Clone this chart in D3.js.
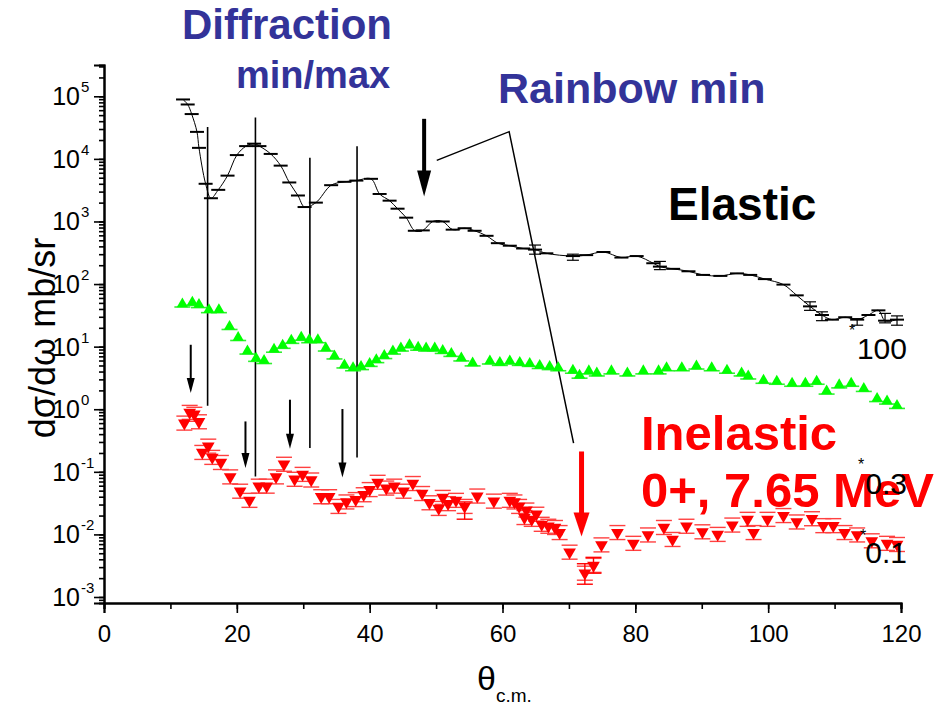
<!DOCTYPE html>
<html><head><meta charset="utf-8">
<script src="https://cdn.jsdelivr.net/npm/d3@7"></script>
<style>body{margin:0;background:#fff} svg{display:block}</style>
</head><body><svg id="c" width="934" height="711"></svg>
<script>
// ---------- data ----------
const elasticTheta = [11.9,12.6,13.2,14.0,14.3,15.3,16.1,17.2,18.6,20.0,21.4,22.6,23.4,25.1,26.6,27.9,29.2,30.2,31.9,34.2,36.2,38.0,40.2,41.5,43.0,44.2,45.5,46.8,48.0,49.5,51.0,52.5,54.3,55.8,57.6,59.3,61.1,63.1,64.9,66.6,70.6,72.6,75.2,77.9,80.2,82.7,83.7,85.7,88.0,90.2,92.8,95.3,97.3,99.5,102.3,104.3,106.3,108.1,109.6,111.6,113.4,115.1,116.6,117.6,119.4];
const elasticValue = [89000,74000,52000,27000,15000,4000,2350,3200,5400,11500,16000,17500,16000,12000,7800,4200,2600,1700,2000,3800,4300,4500,4800,2750,2150,1600,1150,710,720,1000,1000,740,780,710,590,450,410,370,355,310,280,290,325,265,280,215,190,175,160,140,135,148,140,120,98,66,44,32,27,29.5,27,32,38,26,27];
// elastic error bars: theta, low, high
const elasticErr = [[64.9,300,420],[70.6,240,300],[83.7,170,230],[106.3,38,52],[108.1,26,36],[113.4,22,28],[117.6,24,34],[119.4,22,31]];

const greenTheta = [11.8,13.3,14.3,15.8,17.3,18.9,20.2,21.6,22.9,24.1,25.6,26.9,28.2,29.7,30.9,32.2,33.4,34.7,36.2,37.5,38.7,40.0,41.0,42.2,43.5,44.7,46.0,47.3,48.5,49.8,51.0,52.3,53.8,55.5,58.1,59.6,61.1,62.6,64.1,65.6,67.1,68.4,70.6,71.6,73.0,74.2,76.4,78.8,81.2,83.5,84.7,87.0,89.2,91.5,93.8,96.0,97.0,99.3,101.3,103.6,105.6,107.3,108.8,110.7,112.5,114.4,116.4,117.9,119.4];
const greenValue = [48,51,47,39,39,21,14,8.5,6.5,6.0,9.1,10.5,12.6,14.1,12.9,12.9,9.5,7.1,5.1,4.6,4.8,5.4,6.2,7.2,8.5,9.5,10.7,9.8,9.5,9.5,8.7,7.8,6.6,5.5,5.9,5.6,5.9,5.6,5.4,5.0,4.8,4.6,4.2,3.5,4.1,3.8,4.1,3.8,4.1,4.1,4.6,4.6,4.9,4.6,4.2,3.8,3.4,2.9,2.8,2.6,2.6,2.8,1.95,2.45,2.6,2.15,1.48,1.35,1.15];

const redTheta = [12.1,12.9,13.6,14.3,14.8,15.7,16.3,17.6,19.0,20.5,21.9,23.3,24.5,25.9,27.1,28.7,29.9,31.2,32.7,33.9,35.3,36.5,37.9,39.1,40.0,41.2,42.5,43.7,45.1,46.5,47.9,49.0,50.4,51.0,51.8,53.0,54.3,56.2,58.7,61.1,61.8,62.5,63.3,63.6,64.4,65.1,65.9,66.9,67.9,68.6,70.1,72.4,73.7,74.9,77.3,79.7,81.9,84.3,85.6,87.7,90.1,92.4,94.6,96.9,97.8,99.9,102.3,104.3,106.6,108.3,109.8,111.5,113.4,115.6,117.9,119.4];
const redValue = [0.60,0.89,0.83,0.63,0.204,0.257,0.17,0.141,0.083,0.049,0.035,0.059,0.059,0.083,0.132,0.076,0.091,0.074,0.040,0.040,0.028,0.033,0.036,0.043,0.052,0.068,0.055,0.059,0.049,0.065,0.045,0.032,0.026,0.039,0.031,0.035,0.028,0.041,0.034,0.035,0.033,0.028,0.0186,0.0245,0.0174,0.021,0.0145,0.0135,0.0129,0.0107,0.0052,0.0024,0.0032,0.0068,0.0107,0.0072,0.0098,0.0129,0.0083,0.0135,0.011,0.010,0.0141,0.0174,0.0107,0.0174,0.020,0.0158,0.0178,0.0138,0.0138,0.0107,0.0098,0.0079,0.0072,0.0069];
const redErr = [[54.3,0.0175,0.033],[72.4,0.0016,0.0034],[73.7,0.0024,0.0043]];

const xTicks = [0,20,40,60,80,100,120];
const yExponents = [5,4,3,2,1,0,-1,-2,-3];

// annotation geometry in data units: [theta, log10 top, log10 bottom]
const diffLines = [[15.6,4.51,0.056],[22.8,4.66,-1.075],[31.0,4.02,-0.62],[38.1,4.20,-0.77]];
const smallArrows = [[13.06,1.03,0.26],[21.3,-0.195,-0.94],[28.0,0.152,-0.632],[35.9,0.003,-1.09]];
const bigArrow = [48.2,4.64,3.40];
const redArrow = [71.9,-0.675,-2.035];
const rainbowPath = [[50.1,3.976],[61.0,4.435],[70.7,-0.54]];

// ---------- scales ----------
const svg = d3.select('#c');
const x = d3.scaleLinear().domain([0,120]).range([104,901]);
const y = d3.scaleLog().domain([Math.pow(10,-3.096), Math.pow(10,5.5)]).range([603,65]);
const yl = v => y(Math.pow(10,v));
const font = "'Liberation Sans', Arial, sans-serif";

// ---------- axes ----------
const xMinor = d3.range(0,121,10);
const gx = svg.append('g').attr('transform','translate(0,603)');
gx.call(d3.axisBottom(x).tickValues(xMinor).tickSize(6).tickFormat(''));
gx.append('g').call(d3.axisBottom(x).tickValues(xTicks).tickSize(10).tickFormat(d=>d));
gx.selectAll('path.domain').attr('stroke','#000').attr('stroke-width',2);
gx.selectAll('line').attr('stroke','#000').attr('stroke-width',1.6);
gx.selectAll('text').attr('font-family',"'Liberation Sans Narrow','Liberation Sans',Arial,sans-serif")
  .attr('font-size',24).attr('fill','#000').attr('dy','1.1em');
gx.select('g').select('path.domain').remove();

const yMinor = [];
for (let e=-4;e<=5;e++) for (let m=1;m<10;m++){const v=m*Math.pow(10,e); if(v>=y.domain()[0]&&v<=y.domain()[1]) yMinor.push(v);}
const gy = svg.append('g').attr('transform','translate(104,0)');
gy.call(d3.axisLeft(y).tickValues(yMinor).tickSize(5).tickFormat(''));
gy.append('g').call(d3.axisLeft(y).tickValues(yExponents.map(e=>Math.pow(10,e))).tickSize(10).tickFormat(''));
gy.selectAll('path.domain').attr('stroke','#000').attr('stroke-width',2);
gy.select('g').select('path.domain').remove();
gy.selectAll('line').attr('stroke','#000').attr('stroke-width',1.6);
const ylab = svg.append('g');
yExponents.forEach(e=>{
  ylab.append('text').attr('x',80).attr('y',y(Math.pow(10,e))+9)
    .attr('text-anchor','end').attr('font-family',font).attr('font-size',25).attr('fill','#000').text('10');
  ylab.append('text').attr('x',81).attr('y',y(Math.pow(10,e))-4)
    .attr('font-family',font).attr('font-size',15).attr('fill','#000').text(String(e));
});

// axis titles
svg.append('text').attr('transform','translate(55,338) rotate(-90)').attr('text-anchor','middle')
  .attr('font-family',font).attr('font-size',36).attr('fill','#000').text('dσ/dω mb/sr');
const xt = svg.append('text').attr('x',477).attr('y',690).attr('font-family',font).attr('fill','#000');
xt.append('tspan').attr('font-size',34).text('θ');
xt.append('tspan').attr('font-size',19).attr('dy',12).text('c.m.');

// ---------- annotations ----------
const ann = svg.append('g');
diffLines.forEach(d=>ann.append('line').attr('x1',x(d[0])).attr('x2',x(d[0])).attr('y1',yl(d[1])).attr('y2',yl(d[2]))
  .attr('stroke','#000').attr('stroke-width',1.6));
function arrow(g, d, col, w, hw, hl){
  const xx=x(d[0]), y0=yl(d[1]), y1=yl(d[2]);
  g.append('line').attr('x1',xx).attr('x2',xx).attr('y1',y0).attr('y2',y1-hl+2).attr('stroke',col).attr('stroke-width',w);
  g.append('path').attr('d',`M${xx-hw/2},${y1-hl} L${xx+hw/2},${y1-hl} L${xx},${y1} Z`).attr('fill',col);
}
smallArrows.forEach(d=>arrow(ann,d,'#000',2,8,15));
arrow(ann,bigArrow,'#000',4,14,26);
arrow(ann,redArrow,'#ff0000',5,16,24);
ann.append('path').attr('d',d3.line().x(d=>x(d[0])).y(d=>yl(d[1]))(rainbowPath))
  .attr('fill','none').attr('stroke','#000').attr('stroke-width',1.5);

// ---------- elastic ----------
const el = elasticTheta.map((t,i)=>({t, v:elasticValue[i]}));
const ge = svg.append('g');
ge.append('path').attr('d',d3.line().x(d=>x(d.t)).y(d=>y(d.v)).curve(d3.curveCatmullRom)(el))
  .attr('fill','none').attr('stroke','#000').attr('stroke-width',1);
ge.selectAll('line.m').data(el).join('line').attr('class','m')
  .attr('x1',d=>x(d.t)-7).attr('x2',d=>x(d.t)+7).attr('y1',d=>y(d.v)).attr('y2',d=>y(d.v))
  .attr('stroke','#000').attr('stroke-width',2);
elasticErr.forEach(e=>{
  const xx=x(e[0]);
  ge.append('line').attr('x1',xx).attr('x2',xx).attr('y1',y(e[1])).attr('y2',y(e[2])).attr('stroke','#000').attr('stroke-width',1.2);
  [e[1],e[2]].forEach(v=>ge.append('line').attr('x1',xx-6).attr('x2',xx+6).attr('y1',y(v)).attr('y2',y(v)).attr('stroke','#000').attr('stroke-width',1.2));
});

// ---------- green ----------
const gr = greenTheta.map((t,i)=>({t, v:greenValue[i]}));
const gg = svg.append('g');
gg.selectAll('line').data(gr).join('line')
  .attr('x1',d=>x(d.t)-8).attr('x2',d=>x(d.t)+8).attr('y1',d=>y(d.v)+3).attr('y2',d=>y(d.v)+3)
  .attr('stroke','#33ee33').attr('stroke-width',1.6);
gg.selectAll('path').data(gr).join('path')
  .attr('transform',d=>`translate(${x(d.t)},${y(d.v)})`)
  .attr('d',d3.symbol(d3.symbolTriangle).size(55)).attr('fill','#00ff00');

// ---------- red ----------
const rd = redTheta.map((t,i)=>({t, v:redValue[i]}));
const gd = svg.append('g');
rd.forEach(d=>{
  const xx=x(d.t), yy=y(d.v);
  [-7,7].forEach(o=>gd.append('line').attr('x1',xx-8).attr('x2',xx+8).attr('y1',yy+o).attr('y2',yy+o)
    .attr('stroke','#ff4040').attr('stroke-width',1.4));
});
redErr.forEach(e=>{
  const xx=x(e[0]);
  gd.append('line').attr('x1',xx).attr('x2',xx).attr('y1',y(e[1])).attr('y2',y(e[2])).attr('stroke','#ff0000').attr('stroke-width',1.4);
  [e[1],e[2]].forEach(v=>gd.append('line').attr('x1',xx-8).attr('x2',xx+8).attr('y1',y(v)).attr('y2',y(v)).attr('stroke','#ff0000').attr('stroke-width',1.4));
});
gd.selectAll('path').data(rd).join('path')
  .attr('transform',d=>`translate(${x(d.t)},${y(d.v)}) rotate(180)`)
  .attr('d',d3.symbol(d3.symbolTriangle).size(70)).attr('fill','#ff0000');

// ---------- labels ----------
const lab = svg.append('g').attr('font-family',font).attr('font-weight','bold');
lab.append('text').attr('x',182).attr('y',39).attr('font-size',42).attr('fill','#333399').text('Diffraction');
lab.append('text').attr('x',236).attr('y',88).attr('font-size',38).attr('fill','#333399').text('min/max');
lab.append('text').attr('x',498).attr('y',103).attr('font-size',43).attr('fill','#333399').text('Rainbow min');
lab.append('text').attr('x',668).attr('y',220).attr('font-size',46).attr('fill','#000').text('Elastic');
lab.append('text').attr('x',641).attr('y',450).attr('font-size',49).attr('fill','#ff0000').text('Inelastic');
lab.append('text').attr('x',641).attr('y',507).attr('font-size',49).attr('fill','#ff0000').text('0+, 7.65 MeV');

const fac = svg.append('g').attr('font-family',font).attr('fill','#000');
[[852,336,359,'100'],[861,470,494,'0.3'],[863,541,563,'0.1']].forEach(f=>{
  fac.append('text').attr('x',f[0]).attr('y',f[1]).attr('font-size',16).attr('text-anchor','middle').text('*');
  fac.append('text').attr('x',907).attr('y',f[2]).attr('font-size',30).attr('text-anchor','end').text(f[3]);
});
</script></body></html>
